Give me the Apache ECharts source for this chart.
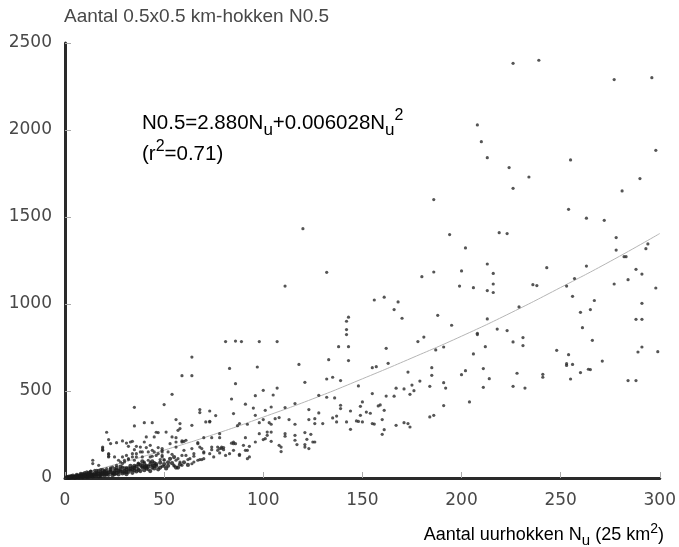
<!DOCTYPE html>
<html>
<head>
<meta charset="utf-8">
<title>N0.5 vs Nu</title>
<script src="https://cdn.jsdelivr.net/npm/echarts@6/dist/echarts.min.js"></script>
<style>
  html, body { margin: 0; padding: 0; background: #fff; }
  #chart { width: 679px; height: 547px; }
</style>
</head>
<body>
<div id="chart"></div>
<script>
// uurhokken (x) en aantal 0.5x0.5 km-hokken (y)
const upperPts = [
  [226,2383],[239,2401],[277,2290],[296,2301],[208,2029],[210,1933],[213,1841],[255,1828],
  [298,1883],[224,1784],[234,1730],[226,1665],[290,1721],[281,1650],[186,1600],[254,1544],
  [263,1493],[272,1481],[194,1399],[219,1410],[223,1405],[278,1382],[120,1433]
];
const midPts = [
  [81,784],[86,787],[89,784],[98,784],[64,695],[83,630],[97,638],[59,588],[64,588],[86,542],
  [54,481],[84,454],[96,473],[107,784],[111,1103],[132,1182],[180,1157],[186,1184],[156,1023],
  [161,1039],[168,1012],[166,968],[170,918],[188,935],[195,878],[143,924],[142,901],[142,853],
  [142,824],[138,755],[143,755],[133,680],[143,675],[162,745],[178,784],[181,810],[187,736],
  [191,753],[118,653],[163,659],[155,634],[157,640],[173,609],[185,634],[185,590],[121,550],
  [132,569],[135,579],[139,560],[148,529],[107,517],[100,504],[105,477],[167,516],[171,512],
  [175,534],[179,557],[176,502],[174,481],[184,527],[191,548],[192,517],[155,485],[162,471],
  [166,470],[128,475],[132,464],[136,460]
];
const rightPts = [
  [202,1322],[213,1230],[200,1190],[216,1176],[216,1115],[199,1103],[206,1094],[213,1077],
  [216,1066],[243,1209],[236,1111],[238,1106],[263,1218],[257,1146],[253,1103],[256,1044],
  [267,1020],[265,968],[260,952],[261,864],[266,791],[278,1310],[282,1272],[283,1272],
  [293,1318],[294,1345],[288,1199],[291,1172],[284,1140],[277,1115],[298,1092],[291,1004],
  [288,912],[291,912],[291,753],[289,724],[299,726],[229,983],[213,914],[208,832],[208,824],
  [218,856],[223,847],[231,807],[226,782],[231,761],[212,755],[206,713],[248,734],[254,709],
  [253,657],[253,647],[256,653],[271,672],[264,625],[265,623],[260,606],[255,569],[241,596],
  [241,579],[228,602],[211,629],[202,617],[200,594],[214,571],[211,521],[226,527],[232,517],
  [284,560],[288,560],[204,437]
];
const lowPts = [
  [98,318],[103,318],[104,309],[106,341],[108,347],[101,389],[104,408],[111,405],[116,428],
  [113,336],[116,309],[98,255],[102,264],[102,245],[104,264],[100,221],[101,226],[104,211],
  [111,255],[111,240],[108,188],[109,178],[109,152],[116,245],[116,217],[117,192],[121,192],
  [121,178],[123,169],[121,261],[122,222],[124,251],[123,336],[123,393],[125,207],[126,207],
  [126,341],[126,313],[128,374],[130,313],[135,345],[137,356],[137,322],[139,418],[139,399],
  [142,322],[144,385],[144,280],[147,328],[148,325],[149,360],[150,322],[149,412],[150,437],
  [152,379],[154,372],[155,313],[156,310],[158,414],[159,420],[160,336],[161,389],[161,278],
  [160,251],[167,303],[171,318],[173,313],[174,293],[191,416],[184,351],[186,360]
];
const clusterPts = [
  [35,406],[50,422],[35,299],[40,318],[44,318],[21,263],[22,221],[23,198],[19,172],[19,159],
  [31,201],[34,211],[38,178],[14,102],[22,136],[22,121],[41,236],[47,261],[51,264],[56,336],
  [58,313],[58,284],[54,236],[56,207],[59,213],[60,210],[64,303],[68,393],[68,376],[71,322],
  [73,322],[76,359],[73,385],[78,255],[85,370],[87,301],[88,313],[91,424],[92,309],[95,402],
  [91,232],[96,207],[85,207],[84,200],[79,178],[79,170],[80,175],[74,232],[70,232],[67,203],
  [69,169],[70,144],[73,140],[78,144],[85,159],[88,136],[92,159],[92,111],[81,130],[61,130],
  [60,159],[62,106],[65,125],[67,102],[56,102],[55,69],[54,136],[52,150],[49,169],[49,150],
  [49,121],[50,102],[48,106],[46,130],[43,121],[42,150],[39,150],[36,140],[34,121],[32,111],
  [30,102],[29,83],[28,92],[26,73],[24,63],[23,59],[21,54],[18,48],[16,44],[13,40],[11,35],
  [9,25],[8,19],[6,15],[4,10],[3,6],
  [73,326],[96,360],[100,336],[46,263],[45,236],[57,274],[56,232],[59,207],[61,217],[53,197],
  [56,178],[49,159],[49,130],[50,106],[44,125],[44,159],[43,92],[49,67],[50,67],[57,111],
  [58,92],[59,130],[59,73],[55,73],[63,111],[65,92],[64,82],[67,197],[68,178],[70,150],
  [70,111],[68,106],[69,106],[74,178],[74,163],[77,178],[77,159],[78,169],[80,163],[83,140],
  [78,232],[85,197],[86,197],[90,188],[91,159],[88,130],[93,121],[93,182],[75,121],[64,169],
  [65,140],
  [19,178],[19,163],[14,83],[17,73],[22,125],[22,140],[25,121],[26,203],[29,213],[32,182],
  [33,207],[36,182],[38,150],[41,175],[45,150],[39,121],[36,121],[34,140],[31,130],[29,121],
  [27,102],[30,92],[32,106],[35,102],[37,86],[40,92],[42,102],[44,73],[40,63],[37,54],[34,63],
  [31,60],[29,63],[25,54],[23,44],[20,44],[18,34],[15,44],[13,25],[10,21],[8,16],[5,10],
  [24,25],[27,34],[30,29],[33,44],[42,48],[35,163],[40,207],[43,188],[47,175],[47,140]
];
// dichte wolk bij de oorsprong
const originPts = [
  [1,2],[2,4],[4,5],[5,8],[6,6],[7,12],[8,10],[9,14],[10,12],[11,18],[12,15],[12,30],[14,20],
  [15,28],[16,22],[17,40],[18,25],[19,30],[20,35],[21,20],[22,32],[25,40],[26,45],[28,50],
  [30,40],[32,55],[35,70],[38,75],[40,80],[45,85],[2,1],[3,3],[5,4],[7,7],[9,9],[11,10],
  [13,12],[14,16],[16,14],[18,18],[20,24],[24,30],[26,28],[28,38],[31,48],[34,50],[36,66],
  [39,60],[41,70],[44,60],[46,80],[48,88],[52,90],[53,110],[55,120],[57,60],
  [1,5],[2,8],[3,10],[4,14],[5,2],[6,18],[7,3],[8,24],[9,5],[10,28],[11,6],[12,8],[13,35],
  [14,9],[15,12],[16,30],[17,10],[18,12],[19,45],[20,15],[21,38],[22,18],[23,50],[24,16],
  [25,22],[26,58],[27,20],[28,65],[29,26],[30,55],[31,22],[32,35],[33,70],[34,30],[35,45],
  [36,38],[37,78],[38,40],[39,95],[40,45],[41,55],[42,65],[43,40],[44,95],[45,55],[46,70],
  [47,50],[48,60],[50,80],[51,55],[52,70],[54,85],[56,60],[58,78],[60,90],[62,75],
  [3,8],[6,10],[8,14],[10,18],[12,22],[13,18],[15,20],[17,26],[19,22],[21,28],[23,34],
  [25,30],[27,42],[29,36],[31,34],[33,52],[35,58],[37,46],[39,68],[41,62],[43,78],[45,70]
];

const fitX = [0, 25, 50, 75, 100, 125, 150, 175, 200, 225, 250, 275, 300];
const fitY = [0, 76, 160, 250, 350, 455, 570, 690, 815, 950, 1095, 1245, 1405];

const xTicks = [0, 50, 100, 150, 200, 250, 300];
const yTicks = [0, 500, 1000, 1500, 2000, 2500];

const chart = echarts.init(document.getElementById('chart'));

const allPts = upperPts.concat(midPts, rightPts, lowPts, clusterPts);
const fitData = fitX.map((x, i) => [x, fitY[i]]);

const labelColor = '#484848';
const font = 'Liberation Sans, Arial, sans-serif';
const tickFont = 'DejaVu Sans, sans-serif';

const option = {
  animation: false,
  backgroundColor: '#fff',
  grid: { left: 65, right: 17, top: 43, bottom: 69 },
  xAxis: {
    type: 'value',
    min: xTicks[0],
    max: xTicks[xTicks.length - 1],
    interval: 50,
    axisLine: { show: true, lineStyle: { color: '#2a2a2a', width: 3 } },
    axisTick: { show: true, inside: true, length: 6, lineStyle: { color: '#aaa' } },
    axisLabel: { color: labelColor, fontSize: 17, fontFamily: tickFont, margin: 14 },
    splitLine: { show: false }
  },
  yAxis: {
    type: 'value',
    min: yTicks[0],
    max: yTicks[yTicks.length - 1],
    interval: 500,
    axisLine: { show: true, lineStyle: { color: '#2a2a2a', width: 3 } },
    axisTick: { show: true, inside: true, length: 6, lineStyle: { color: '#aaa' } },
    axisLabel: {
      color: labelColor, fontSize: 17, fontFamily: tickFont, margin: 13,
      formatter: v => String(v)
    },
    splitLine: { show: false }
  },
  graphic: [
    {
      type: 'text', left: 64, top: 7,
      style: { text: 'Aantal 0.5x0.5 km-hokken N0.5', fill: labelColor, font: '19px ' + font }
    },
    {
      type: 'text', right: 15, top: 522,
      style: {
        text: '{a|Aantal uurhokken N}{s|u}{a| (25 km}{p|2}{a|)}',
        rich: {
          a: { fontSize: 18, fontFamily: font, color: labelColor, lineHeight: 26 },
          s: { fontSize: 15, fontFamily: font, color: labelColor, lineHeight: 14, verticalAlign: 'bottom' },
          p: { fontSize: 14, fontFamily: font, color: labelColor, lineHeight: 16, verticalAlign: 'top' }
        }
      }
    },
    {
      type: 'text', left: 142, top: 108,
      style: {
        text: '{a|N0.5=2.880N}{s|u}{a|+0.006028N}{s|u}{p|2}\n{a|(r}{p|2}{a|=0.71)}',
        rich: {
          a: { fontSize: 20.5, fontFamily: font, color: '#333', lineHeight: 31 },
          s: { fontSize: 17, fontFamily: font, color: '#333', lineHeight: 16, verticalAlign: 'bottom' },
          p: { fontSize: 16, fontFamily: font, color: '#333', lineHeight: 21, verticalAlign: 'top' }
        }
      }
    }
  ],
  series: [
    {
      type: 'line',
      data: fitData,
      smooth: true,
      showSymbol: false,
      lineStyle: { color: '#b5b5b5', width: 1 },
      z: 1
    },
    {
      type: 'scatter',
      data: allPts,
      symbol: 'circle',
      symbolSize: 3.2,
      itemStyle: { color: '#2a2a2a' },
      z: 2
    },
    {
      type: 'scatter',
      data: originPts,
      symbol: 'circle',
      symbolSize: 4.2,
      itemStyle: { color: '#1a1a1a' },
      z: 2
    }
  ]
};

chart.setOption(option);
</script>
</body>
</html>
